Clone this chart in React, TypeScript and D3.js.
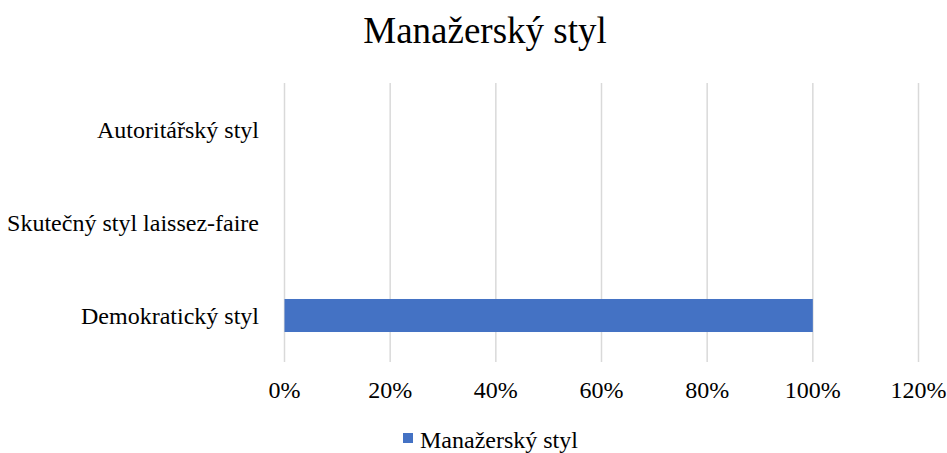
import React from "react";
import * as d3 from "d3";

const categories = ["Autoritářský styl", "Skutečný styl laissez-faire", "Demokratický styl"];
const values = [0, 0, 1];
const ticks = [0, 0.2, 0.4, 0.6, 0.8, 1.0, 1.2];
const seriesName = "Manažerský styl";
const title = "Manažerský styl";

const W = 947;
const H = 453;
const FONT = "'Liberation Serif', 'Times New Roman', serif";

export default function App() {
  const x = d3.scaleLinear().domain([0, 1.2]).range([284.5, 918.5]);
  const y = d3.scaleBand().domain(categories).range([83, 362]).paddingInner(0.645).paddingOuter(0.3225);
  const fmt = d3.format(".0%");
  return (
    <svg width={W} height={H} style={{ position: "absolute", left: 0, top: 0 }}>
      <rect width={W} height={H} fill="#fff" />
      <text x={485} y={43} textAnchor="middle" fontFamily={FONT} fontSize={37} fill="#000">{title}</text>
      {ticks.map((t) => (
        <g key={t}>
          <line x1={x(t)} x2={x(t)} y1={83} y2={362} stroke="#d9d9d9" strokeWidth={1.5} />
          <text x={x(t)} y={398} textAnchor="middle" fontFamily={FONT} fontSize={24} fill="#000">{fmt(t)}</text>
        </g>
      ))}
      {categories.map((c, i) => (
        <g key={c}>
          {values[i] > 0 && (
            <rect x={x(0)} y={y(c)!} width={x(values[i]) - x(0)} height={y.bandwidth()} fill="#4472c4" />
          )}
          <text x={259} y={y(c)! + y.bandwidth() / 2 + 8.5} textAnchor="end" fontFamily={FONT} fontSize={24} fill="#000">{c}</text>
        </g>
      ))}
      <rect x={403} y={433} width={10} height={10} fill="#4472c4" />
      <text x={420} y={448} fontFamily={FONT} fontSize={24} fill="#000">{seriesName}</text>
    </svg>
  );
}
